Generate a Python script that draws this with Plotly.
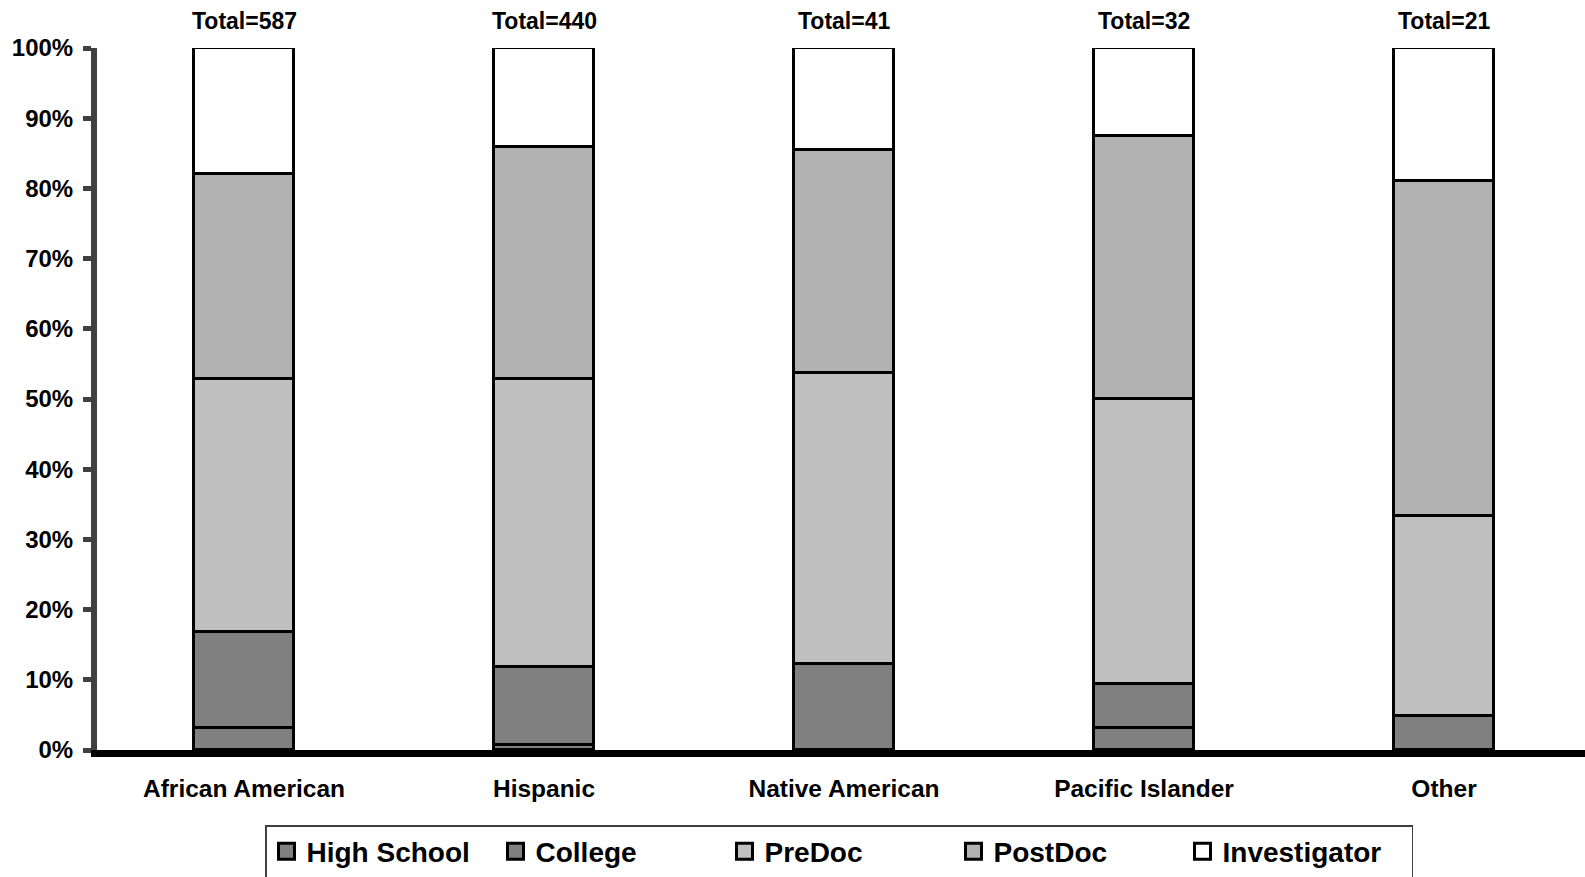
import plotly.graph_objects as go

categories = ["African American", "Hispanic", "Native American", "Pacific Islander", "Other"]
totals = [587, 440, 41, 32, 21]

# percent of each group
high_school = [3.2, 0.7, 0.0, 3.1, 0.0]
college = [13.6, 11.1, 12.2, 6.3, 4.8]
predoc = [36.0, 41.1, 41.5, 40.6, 28.6]
postdoc = [29.3, 33.0, 31.7, 37.5, 47.6]
investigator = [17.9, 14.1, 14.6, 12.5, 19.0]

series_names = ["High School", "College", "PreDoc", "PostDoc", "Investigator"]
series_values = [high_school, college, predoc, postdoc, investigator]
series_colors = ["#808080", "#808080", "#C0C0C0", "#B2B2B2", "#FFFFFF"]

FONT = "Liberation Sans, Arial, sans-serif"

fig = go.Figure()
for name, vals, col in zip(series_names, series_values, series_colors):
    fig.add_trace(go.Bar(
        x=list(range(len(categories))),
        y=[v / 100 for v in vals],
        name=name,
        legendgroup=name,
        showlegend=False,
        width=0.333,
        marker=dict(color=col, line=dict(color="black", width=3)),
    ))

# legend-only entries (larger square swatches like the original)
for name, col in zip(series_names, series_colors):
    fig.add_trace(go.Scatter(
        x=[None], y=[None], mode="markers", name=name, legendgroup=name,
        marker=dict(symbol="square", size=16, color=col,
                    line=dict(color="black", width=3)),
        hoverinfo="skip",
    ))

for i, t in enumerate(totals):
    fig.add_annotation(
        x=i, y=1.0, xref="x", yref="y",
        text=f"Total={t}", showarrow=False,
        yanchor="bottom", yshift=12,
        font=dict(family=FONT, size=23, color="black", weight="bold"),
    )

fig.update_layout(
    width=1585, height=877,
    margin=dict(l=97, r=0, t=48, b=127, autoexpand=False),
    paper_bgcolor="white", plot_bgcolor="white",
    barmode="stack",
    bargap=0,
    showlegend=True,
    legend=dict(
        orientation="h",
        xref="container", yref="container",
        x=265 / 1585, xanchor="left",
        y=1 - 825 / 877, yanchor="top",
        traceorder="normal",
        bordercolor="#404040", borderwidth=1.5,
        font=dict(family=FONT, size=28, color="black", weight="bold"),
        entrywidth=184,
    ),
    xaxis=dict(
        range=[-0.49, 4.47],
        tickmode="array",
        tickvals=list(range(len(categories))),
        ticktext=categories,
        showline=True, linecolor="black", linewidth=7,
        ticks="", showgrid=False, zeroline=False,
        tickfont=dict(family=FONT, size=24.5, color="black", weight="bold"),
        ticklabelstandoff=11,
    ),
    yaxis=dict(
        range=[0, 1],
        tickmode="array",
        tickvals=[i / 10 for i in range(11)],
        ticktext=[f"{i*10}%" for i in range(11)],
        showline=True, linecolor="#404040", linewidth=6,
        ticks="outside", ticklen=8, tickwidth=5, tickcolor="#404040",
        showgrid=False, zeroline=False,
        tickfont=dict(family=FONT, size=24, color="black", weight="bold"),
        ticklabelstandoff=5,
    ),
)

fig.write_html(
    "out.html",
    config={"displayModeBar": False},
    post_script="document.body.style.margin='0';document.body.style.overflow='hidden';",
)
